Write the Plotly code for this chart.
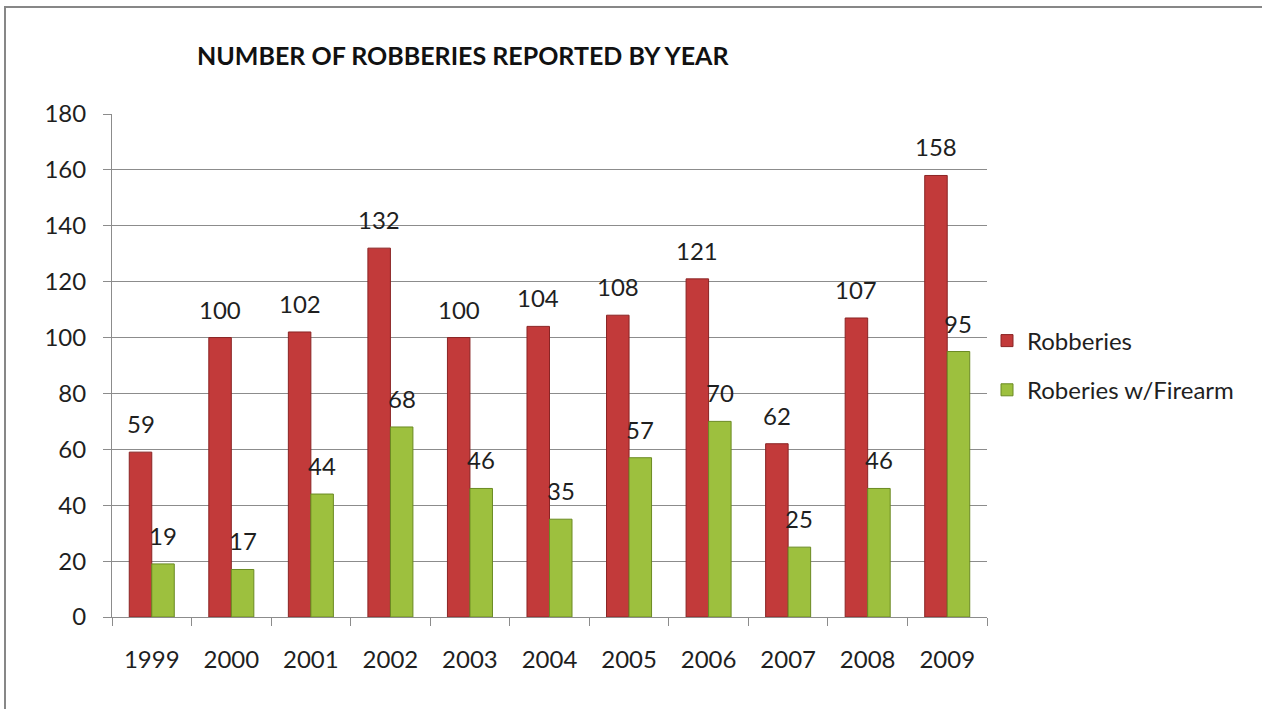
import plotly.graph_objects as go

years = ["1999", "2000", "2001", "2002", "2003", "2004", "2005", "2006", "2007", "2008", "2009"]
robberies = [59, 100, 102, 132, 100, 104, 108, 121, 62, 107, 158]
firearm = [19, 17, 44, 68, 46, 35, 57, 70, 25, 46, 95]
series_names = ["Robberies", "Roberies w/Firearm"]
title_text = "NUMBER OF ROBBERIES REPORTED BY YEAR"
y_ticks = [0, 20, 40, 60, 80, 100, 120, 140, 160, 180]

FONT = "Lato"
TXT = "#1f1f1f"
GRID = "#8c8c8c"
RED = "#C23A3A"
RED_EDGE = "#8A2424"
GREEN = "#9DC03E"
GREEN_EDGE = "#6A8A22"

fig = go.Figure()
fig.add_trace(go.Bar(x=years, y=robberies, name=series_names[0], legendgroup="a",
                     marker=dict(color=RED, line=dict(color=RED_EDGE, width=1))))
fig.add_trace(go.Bar(x=years, y=firearm, name=series_names[1], legendgroup="b",
                     marker=dict(color=GREEN, line=dict(color=GREEN_EDGE, width=1))))

annotations = []
for vals, xs in ((robberies, -11.25), (firearm, 11.25)):
    for i, v in enumerate(vals):
        annotations.append(dict(x=i, y=v, xref="x", yref="y", text=str(v), showarrow=False,
                                xshift=xs, yshift=12, yanchor="bottom", xanchor="center",
                                font=dict(family=FONT, size=24, color=TXT)))
annotations.append(dict(x=(195 - 112) / 875, y=(617 - 55) / 503, xref="paper", yref="paper",
                        text="<b>" + title_text + "</b>", showarrow=False, xanchor="left",
                        yanchor="middle", font=dict(family=FONT, size=25, color="#111111")))

fig.update_layout(
    width=1262, height=709,
    margin=dict(l=112, r=275, t=114, b=92),
    paper_bgcolor="white", plot_bgcolor="white",
    barmode="group", bargap=0.434, bargroupgap=0,
    font=dict(family=FONT, size=24, color=TXT),
    showlegend=True,
    legend=dict(x=1.0, xanchor="left", y=0.5, yanchor="middle", tracegroupgap=15,
                font=dict(family=FONT, size=24, color=TXT), bgcolor="rgba(0,0,0,0)"),
    annotations=annotations,
    shapes=[dict(type="rect", xref="paper", yref="paper",
                 x0=(5 - 112) / 875, x1=1.5, y0=-0.5, y1=(617 - 7) / 503,
                 line=dict(color="#878787", width=2), fillcolor="rgba(0,0,0,0)", layer="below")],
)
fig.update_xaxes(type="category", range=[-0.5, len(years) - 0.5], showline=True, linecolor=GRID,
                 linewidth=1, ticks="outside", tickson="boundaries", ticklen=8, tickcolor=GRID,
                 showgrid=False, ticklabelstandoff=21, tickangle=0,
                 tickfont=dict(family=FONT, size=24, color=TXT))
fig.update_yaxes(range=[0, 180], tickvals=y_ticks, showline=True, linecolor=GRID, linewidth=1,
                 ticks="outside", ticklen=8, tickcolor=GRID, showgrid=True, gridcolor=GRID,
                 gridwidth=1, zeroline=False, ticklabelstandoff=12,
                 tickfont=dict(family=FONT, size=24, color=TXT))

fig.write_html("out.html", config={"displayModeBar": False},
               post_script="document.body.style.margin='0';document.body.style.overflow='hidden';")
